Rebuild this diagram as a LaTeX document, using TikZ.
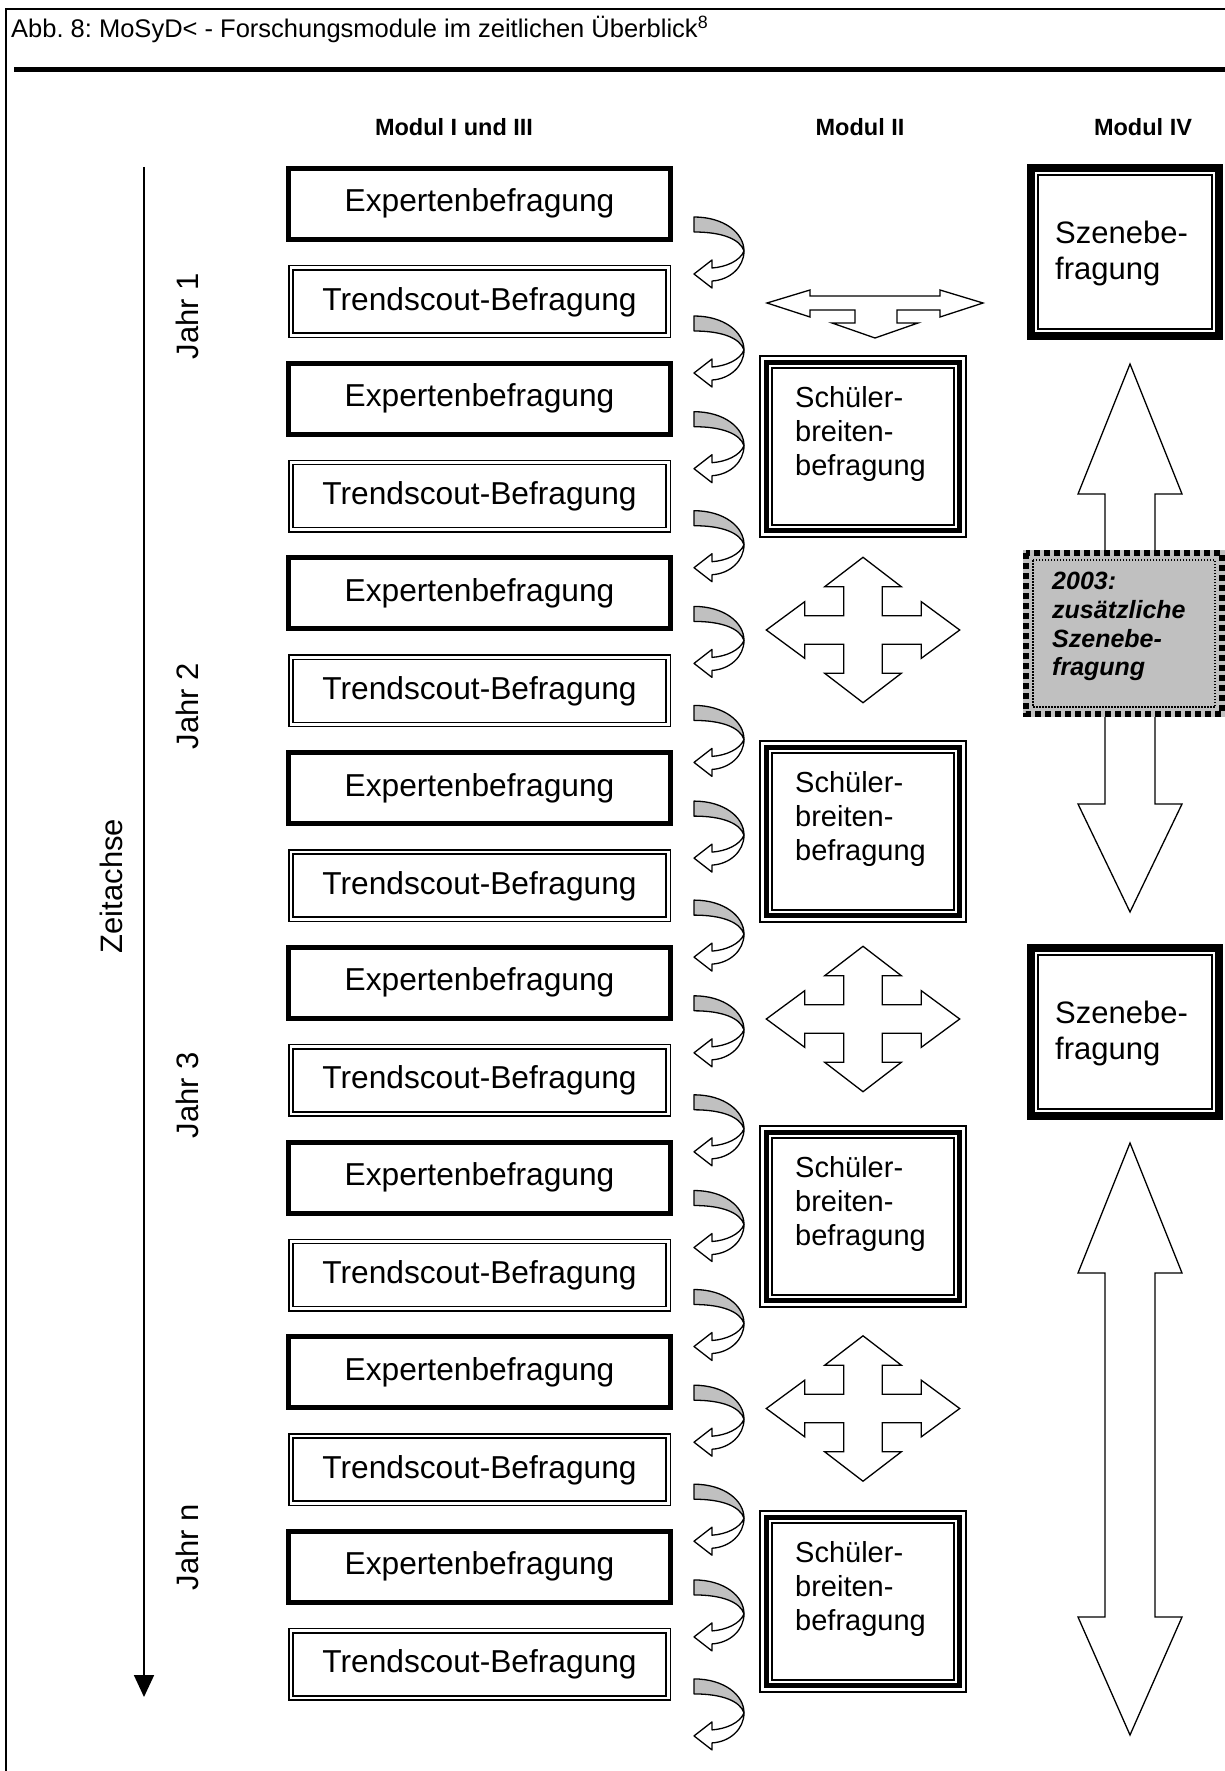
\documentclass[tikz,border=0pt]{standalone}
\usepackage{fontspec}
\setmainfont{Liberation Sans}
\usetikzlibrary{arrows.meta}
\definecolor{silv}{HTML}{C0C0C0}
\frenchspacing
\begin{document}
\begin{tikzpicture}[x=1pt,y=-1pt,
 boxtxt/.style={inner sep=0pt,font=\fontsize{31.7pt}{36pt}\selectfont},
 axtxt/.style={inner sep=0pt,rotate=90,font=\fontsize{31pt}{36pt}\selectfont},
 hdr/.style={inner sep=0pt,font=\bfseries\fontsize{23.5pt}{27pt}\selectfont},
 multitxt/.style={inner sep=0pt,align=left,anchor=north west,font=\fontsize{31pt}{36pt}\selectfont},
 schtxt/.style={inner sep=0pt,align=left,anchor=north west,font=\fontsize{29pt}{34pt}\selectfont},
 graytxt/.style={inner sep=0pt,align=left,anchor=north west,font=\bfseries\itshape\fontsize{25pt}{28.7pt}\selectfont},
 shp/.style={draw=black,line width=1.3pt,fill=white,line join=miter},
 pics/curv/.style={code={
   \filldraw[fill=silv,line width=1.3pt,line join=round] (0,0) .. controls (30,0) and (50,16) .. (50,34) .. controls (46,22) and (28,15) .. (0,15) -- cycle;
   \filldraw[fill=white,line width=1.3pt,line join=round] (50,34) .. controls (50,50) and (36,63) .. (18,64) -- (18,71) -- (0,57) -- (18,43) -- (18,51) .. controls (32,50) and (46,44) .. (50,34) -- cycle;
 }},
 pics/quad/.style={code={
   \draw[shp] (-96.7,0) -- (-58.3,-28.3) -- (-58.3,-14.2) -- (-19.2,-14.2) -- (-19.2,-43.3) -- (-38.3,-43.3) -- (0,-72.7) -- (38.3,-43.3) -- (19.2,-43.3) -- (19.2,-14.2) -- (58.3,-14.2) -- (58.3,-28.3) -- (96.7,0) -- (58.3,28.3) -- (58.3,14.2) -- (19.2,14.2) -- (19.2,43.3) -- (38.3,43.3) -- (0,72.7) -- (-38.3,43.3) -- (-19.2,43.3) -- (-19.2,14.2) -- (-58.3,14.2) -- (-58.3,28.3) -- cycle;
 }},
]
\useasboundingbox (0,0) rectangle (1225,1771);
\fill[white] (0,0) rectangle (1225,1771);

% frame and title
\draw[line width=2pt] (6,1771) -- (6,9) -- (1225,9);
\draw[line width=5pt] (14,70) -- (1225,70);
\node[anchor=base west,inner sep=0pt,font=\fontsize{25.5pt}{30pt}\selectfont] (title) at (11,38) {Abb. 8: MoSyD< - Forschungsmodule im zeitlichen Überblick\textsuperscript{8}};

% headers
\node[hdr] (h1) at (454,127) {Modul I und III};
\node[hdr] (h2) at (860,127) {Modul II};
\node[hdr] (h3) at (1143,127) {Modul IV};

% time axis
\coordinate (axtop) at (144,167);
\coordinate (axbot) at (144,1697);
\draw[line width=1.8pt,-{Triangle[width=20pt,length=22pt]}] (axtop) -- (axbot);
\node[axtxt] (zeit) at (111,886) {Zeitachse};
\node[axtxt] (j1) at (187,316) {Jahr 1};
\node[axtxt] (j2) at (187,706) {Jahr 2};
\node[axtxt] (j3) at (187,1095) {Jahr 3};
\node[axtxt] (jn) at (187,1547) {Jahr n};

% left column
\foreach \k in {0,...,7} {
  \pgfmathsetmacro\ya{166+\k*194.7}
  \pgfmathsetmacro\yb{265+\k*194.7}
  \draw[line width=5pt] (288.5,\ya+2.5) rectangle (670.5,\ya+73.5);
  \node[boxtxt,anchor=base] (e\k) at (479.5,\ya+46) {Expertenbefragung};
  \draw[line width=1.5pt] (288.75,\yb+0.75) rectangle (670.25,\yb+72.25);
  \draw[line width=1.5pt] (293,\yb+5) rectangle (666,\yb+68);
  \node[boxtxt,anchor=base] (t\k) at (479.5,\yb+45) {Trendscout-Befragung};
  \pic at (694,\ya+51) {curv};
  \pic at (694,\yb+51) {curv};
}

% middle column
\draw[shp] (767,303) -- (810,290) -- (810,296) -- (940,296) -- (940,290) -- (983,303) -- (940,317) -- (940,310) -- (897,310) -- (897,323) -- (918,323) -- (875,338) -- (832,323) -- (855,323) -- (855,310) -- (810,310) -- (810,317) -- cycle;
\pic at (863,630) {quad};
\pic at (863,1019) {quad};
\pic at (863,1408.5) {quad};
\foreach \k/\t in {1/355,2/740,3/1125,4/1510} {
  \draw[line width=2pt] (760,\t+1) rectangle (966,\t+182);
  \draw[line width=5.3pt] (766.3,\t+7.3) rectangle (959.7,\t+175.7);
  \draw[line width=1.7pt] (772.2,\t+13.2) rectangle (953.8,\t+169.8);
  \node[schtxt] (s\k) at (795,\t+31) {Schüler-\\breiten-\\befragung};
}

% right column
\draw[shp] (1130,364) -- (1182,494) -- (1155,494) -- (1155,804) -- (1182,804) -- (1130,912) -- (1078,804) -- (1105,804) -- (1105,494) -- (1078,494) -- cycle;
\draw[shp] (1130,1143) -- (1182,1273) -- (1155,1273) -- (1155,1617) -- (1182,1617) -- (1130,1735) -- (1078,1617) -- (1105,1617) -- (1105,1273) -- (1078,1273) -- cycle;
\foreach \k/\t in {1/164,2/944} {
  \draw[line width=8pt] (1031,\t+4) rectangle (1219,\t+172);
  \draw[line width=2pt] (1038,\t+11) rectangle (1212,\t+165);
  \node[multitxt] (sz\k) at (1055,\t+57) {Szenebe-\\fragung};
}
\fill[silv] (1023,550) rectangle (1225,717);
\draw[line width=6pt,dash pattern=on 6pt off 4pt] (1026,553) rectangle (1222,714);
\draw[line width=1.5pt,dash pattern=on 1.5pt off 1.5pt] (1033,560) rectangle (1215,707);
\node[graytxt] (g1) at (1052,572) {2003:\\zusätzliche\\Szenebe-\\fragung};
\end{tikzpicture}
\end{document}
